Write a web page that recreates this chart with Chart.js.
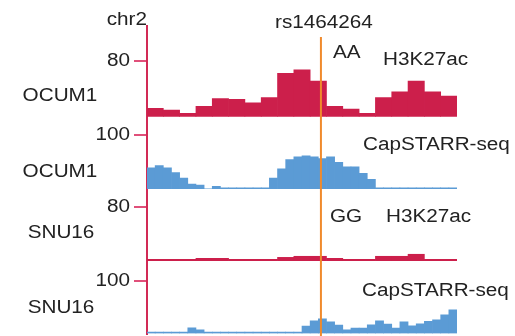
<!DOCTYPE html>
<html>
<head>
<meta charset="utf-8">
<script src="https://cdn.jsdelivr.net/npm/chart.js@4"></script>
<style>
  html, body { margin: 0; padding: 0; background: #fff; }
  #wrap { width: 515px; height: 336px; }
</style>
</head>
<body>
<div id="wrap"><canvas id="trackChart" width="515" height="336"></canvas></div>
<script>
// coarse bins for H3K27ac, fine bins for CapSTARR-seq
const coarseBins = Array.from({ length: 19 }, (_, i) => "b" + (i + 1));
const fineBins = Array.from({ length: 38 }, (_, i) => "f" + (i + 1));

const ocumH3 = [12, 9.5, 5, 15, 26, 25, 20, 27.5, 62, 67, 51, 15, 11, 5, 27.5, 35.5, 51, 35.5, 29.5];
const ocumStarr = [39, 43, 39, 30, 20, 9, 7, 0.5, 5, 2, 2, 2, 2, 2, 2, 20, 37, 54, 59,
  61, 59, 56, 59, 49, 41, 41, 29, 18, 2, 2, 2, 2, 2, 2, 2, 2, 2, 2];
const snuH3 = [2.5, 2.5, 2.5, 4, 4, 2.5, 2.5, 2.5, 5.4, 7, 7, 4, 2.5, 2.5, 7, 7, 10, 2.5, 2.5];
const snuStarr = [2.5, 2.5, 2.5, 2.5, 2.5, 11, 7, 2.5, 2.5, 2.5, 2.5, 2.5, 2.5, 2.5, 2.5, 2.5, 2.5, 2.5, 2.5,
  14, 24, 28, 22, 16, 7, 10.5, 10.5, 16.5, 24, 18, 10.5, 22, 14.5, 18.5, 23, 26, 35.5, 45];

const cellLines = ["OCUM1", "OCUM1", "SNU16", "SNU16"];
const assays = ["H3K27ac", "CapSTARR-seq", "H3K27ac", "CapSTARR-seq"];
const genotypes = ["AA", "", "GG", ""];
const tickValues = [80, 100, 80, 100];
const trackMax = [130, 133, 107, 138];
const chrom = "chr2";
const snpName = "rs1464264";
const snpBin = 10.16;

const RED = "#cc1f4b";
const BLUE = "#5b9bd5";
const FONT = '18px "Liberation Sans", Arial, sans-serif';

function yTrack(i, weight) {
  return {
    type: "linear",
    position: "left",
    stack: "tracks",
    stackWeight: weight,
    min: 0,
    max: trackMax[i],
    afterBuildTicks: s => { s.ticks = [{ value: tickValues[i] }]; },
    afterFit: s => { s.width = 147; },
    ticks: { display: false },
    grid: { drawOnChartArea: false, drawTicks: true, tickLength: 13, color: "#e0507a", lineWidth: 2 },
    border: { color: "#d22a55", width: 2 }
  };
}

function stretchedText(ctx, str, x, y, align, base) {
  ctx.save();
  ctx.translate(x, y);
  ctx.scale(1.15, 1);
  ctx.textAlign = align;
  ctx.textBaseline = base || "alphabetic";
  ctx.fillText(str, 0, 0);
  ctx.restore();
}

const annotations = {
  id: "annotations",
  afterDatasetsDraw(chart) {
    const ctx = chart.ctx;
    const xs = chart.scales.x;
    const px = xs.getPixelForValue(snpBin);
    ctx.save();
    ctx.strokeStyle = "#f08a2c";
    ctx.lineWidth = 2;
    ctx.beginPath();
    ctx.moveTo(px, chart.chartArea.top + 11);
    ctx.lineTo(px, chart.height);
    ctx.stroke();
    ctx.restore();
  },
  afterDraw(chart) {
    const ctx = chart.ctx;
    ctx.save();
    ctx.font = FONT;
    ctx.fillStyle = "#222";
    stretchedText(ctx, chrom, 147, 25, "right");
    stretchedText(ctx, snpName, 275, 28, "left");
    const nameY = [101, 177, 238, 313];
    const nameX = [60, 60, 61, 61];
    const assayPos = [[383, 65], [363, 150], [386, 222], [362, 296]];
    const genoPos = [[333, 58], null, [330, 222], null];
    ["y1", "y2", "y3", "y4"].forEach((id, i) => {
      const sc = chart.scales[id];
      stretchedText(ctx, String(tickValues[i]), 130, sc.getPixelForValue(tickValues[i]), "right", "middle");
      stretchedText(ctx, cellLines[i], nameX[i], nameY[i], "center");
      stretchedText(ctx, assays[i], assayPos[i][0], assayPos[i][1], "left");
      if (genotypes[i]) stretchedText(ctx, genotypes[i], genoPos[i][0], genoPos[i][1], "left");
    });
    ctx.restore();
  }
};

const bar = { categoryPercentage: 1, barPercentage: 1, borderWidth: 0, grouped: false };

new Chart(document.getElementById("trackChart"), {
  type: "bar",
  data: {
    datasets: [
      Object.assign({ label: "OCUM1 H3K27ac", data: ocumH3, backgroundColor: RED, xAxisID: "x", yAxisID: "y1" }, bar),
      Object.assign({ label: "OCUM1 CapSTARR-seq", data: ocumStarr, backgroundColor: BLUE, xAxisID: "xb", yAxisID: "y2" }, bar),
      Object.assign({ label: "SNU16 H3K27ac", data: snuH3, backgroundColor: RED, xAxisID: "x", yAxisID: "y3" }, bar),
      Object.assign({ label: "SNU16 CapSTARR-seq", data: snuStarr, backgroundColor: BLUE, xAxisID: "xb", yAxisID: "y4" }, bar)
    ]
  },
  options: {
    responsive: false,
    animation: false,
    layout: { padding: { top: 26, right: 58, bottom: 2.5, left: 0 } },
    plugins: { legend: { display: false }, tooltip: { enabled: false } },
    scales: {
      x: { type: "category", labels: coarseBins, display: false },
      xb: { type: "category", labels: fineBins, display: false },
      y4: yTrack(3, 72.5),
      y3: yTrack(2, 72),
      y2: yTrack(1, 72.3),
      y1: yTrack(0, 90.7)
    }
  },
  plugins: [annotations]
});
</script>
</body>
</html>
